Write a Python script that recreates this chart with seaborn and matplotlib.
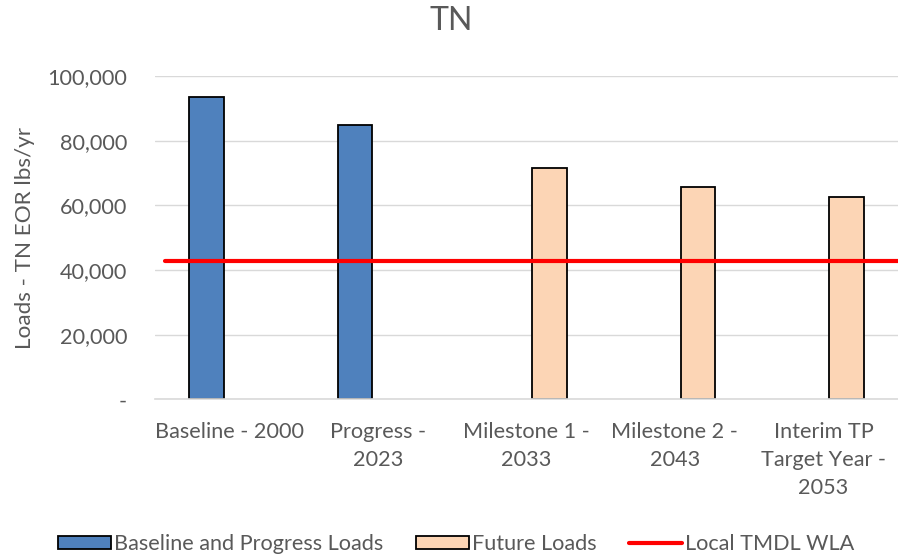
import seaborn as sns
import pandas as pd
import numpy as np
import matplotlib.pyplot as plt
from matplotlib.ticker import FuncFormatter
from matplotlib.patches import Patch
from matplotlib.lines import Line2D

categories = ['Baseline - 2000', 'Progress -\n2023', 'Milestone 1 -\n2033',
              'Milestone 2 -\n2043', 'Interim TP\nTarget Year -\n2053']
series = ['Baseline and Progress Loads', 'Future Loads']
baseline_progress = [93500, 84800]
future_loads = [71700, 65700, 62450]
wla = [42900, 42900, 42900, 42900, 42750]

rows = []
for cat, val in zip(categories[:2], baseline_progress):
    rows.append({'cat': cat, 'series': series[0], 'load': val})
for cat, val in zip(categories[2:], future_loads):
    rows.append({'cat': cat, 'series': series[1], 'load': val})
df = pd.DataFrame(rows)

sns.set_style('white')
plt.rcParams['font.family'] = ['Lato', 'DejaVu Sans']
grey = '#595959'
blue = '#4F81BD'
peach = '#FCD5B5'
fs = 15.6

fig = plt.figure(figsize=(8.98, 5.56), dpi=100)
ax = fig.add_axes([0.1726, 0.2815, 0.827, 0.5818])

bar = sns.barplot(data=df, x='cat', y='load', hue='series', order=categories,
                  hue_order=series, palette=[blue, peach], width=0.62, gap=0.25,
                  dodge=True, saturation=1, edgecolor='black', linewidth=1.3,
                  ax=ax, legend=False, zorder=2)

# WLA line
x = np.r_[-0.43, np.arange(len(wla)), 4.5]
y = np.r_[wla[0], wla, wla[-1]]
ax.plot(x, y, color='#FF0000', lw=3, drawstyle='steps-mid', zorder=3)

ax.set_xlim(-0.5, 4.5)
ax.set_ylim(0, 100000)
ax.set_yticks(np.arange(0, 100001, 20000))
ax.yaxis.set_major_formatter(FuncFormatter(lambda v, p: '-' if v == 0 else f'{v:,.0f}'))
ax.grid(axis='y', color='#D9D9D9', lw=1, zorder=0)
ax.set_axisbelow(True)
for s in ['top', 'right', 'left']:
    ax.spines[s].set_visible(False)
ax.spines['bottom'].set_color('#D9D9D9')
ax.spines['bottom'].set_linewidth(1.2)
ax.tick_params(axis='both', length=0, labelsize=fs, labelcolor=grey)
ax.tick_params(axis='x', pad=16)
ax.tick_params(axis='y', pad=20)
for lab in ax.get_xticklabels():
    lab.set_linespacing(1.5)
ax.set_xlabel('')
ax.set_ylabel('Loads - TN EOR lbs/yr', fontsize=fs + 0.6, color=grey, labelpad=9)
fig.suptitle('TN', fontsize=23, color=grey, x=0.502, y=0.99, va='top')

handles = [Patch(facecolor=blue, edgecolor='black', lw=1.3),
           Patch(facecolor=peach, edgecolor='black', lw=1.3),
           Line2D([0], [0], color='#FF0000', lw=3)]
fig.legend(handles, series + ['Local TMDL WLA'], loc='center', bbox_to_anchor=(0.508, 0.021),
           ncol=3, frameon=False, fontsize=fs, labelcolor=grey, handlelength=2.45,
           handleheight=0.56, handletextpad=0.15, columnspacing=1.5)

fig.savefig('out.png', dpi=100)
